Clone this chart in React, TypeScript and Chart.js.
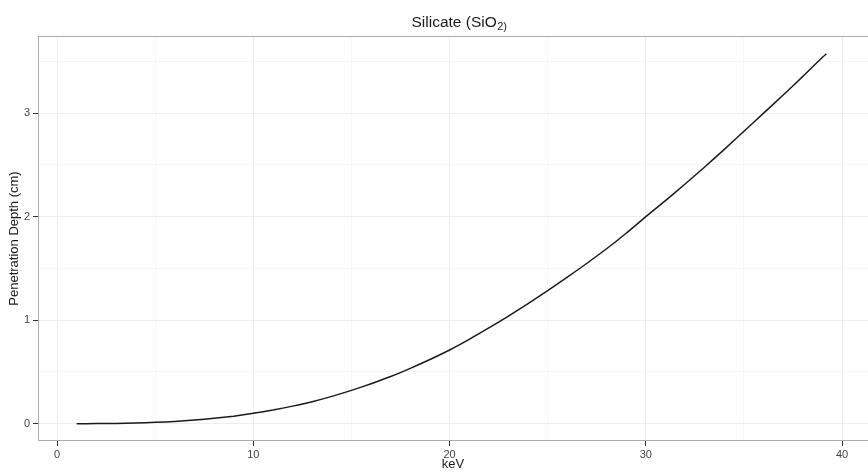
import React, { useEffect, useRef } from 'react';
import { Chart, registerables } from 'chart.js';

Chart.register(...registerables);

// Energy (keV) and penetration depth (cm)
const keV = [1, 2, 3, 4, 5, 6, 7, 8, 9, 10, 11, 12, 13, 14, 15, 16, 17, 18, 19, 20,
  21, 22, 23, 24, 25, 26, 27, 28, 29, 30, 31, 32, 33, 34, 35, 36, 37, 38, 39, 39.2];
const depthCm = [0.000, 0.001, 0.003, 0.007, 0.013, 0.022, 0.036, 0.052, 0.073, 0.100,
  0.132, 0.170, 0.213, 0.264, 0.322, 0.386, 0.456, 0.535, 0.620, 0.712,
  0.815, 0.925, 1.040, 1.160, 1.285, 1.415, 1.550, 1.690, 1.840, 2.000,
  2.155, 2.315, 2.480, 2.650, 2.825, 3.000, 3.175, 3.355, 3.540, 3.572];

const xTicks = [0, 5, 10, 15, 20, 25, 30, 35, 40];
const xLabelled = [0, 10, 20, 30, 40];
const yTicks = [0, 0.5, 1, 1.5, 2, 2.5, 3, 3.5];
const yLabelled = [0, 1, 2, 3];

const titleMain = 'Silicate (SiO';
const titleSub = '2)';
const xTitle = 'keV';
const yTitle = 'Penetration Depth (cm)';

const FONT = '"Liberation Sans", Arial, Helvetica, sans-serif';

const framePlugin = {
  id: 'frame',
  afterDraw(chart: any) {
    const { ctx, chartArea: a } = chart;
    ctx.save();
    ctx.strokeStyle = '#ababab';
    ctx.lineWidth = 1;
    ctx.strokeRect(a.left + 0.5, a.top + 0.5, a.right - a.left + 20, a.bottom - a.top - 1);
    // title with subscript
    ctx.fillStyle = '#1a1a1a';
    ctx.textBaseline = 'alphabetic';
    ctx.textAlign = 'left';
    ctx.font = `15.5px ${FONT}`;
    const w1 = ctx.measureText(titleMain).width;
    ctx.font = `11px ${FONT}`;
    const w2 = ctx.measureText(titleSub).width;
    const cx = (a.left + a.right) / 2 + 6;
    const x0 = cx - (w1 + w2) / 2;
    const base = 26.5;
    ctx.font = `15.5px ${FONT}`;
    ctx.fillText(titleMain, x0, base);
    ctx.font = `11px ${FONT}`;
    ctx.fillText(titleSub, x0 + w1 + 0.5, base + 3.5);
    ctx.restore();
  },
};

export default function App() {
  const ref = useRef<HTMLCanvasElement | null>(null);

  useEffect(() => {
    if (!ref.current) return;
    const points = keV.map((x, i) => ({ x, y: depthCm[i] }));
    const chart = new Chart(ref.current, {
      type: 'line',
      data: {
        datasets: [
          {
            data: points,
            borderColor: '#1a1a1a',
            borderWidth: 1.5,
            pointRadius: 0,
            tension: 0.2,
            fill: false,
          },
        ],
      },
      options: {
        animation: false,
        responsive: false,
        maintainAspectRatio: false,
        layout: { padding: { top: 36, left: 0, right: 0, bottom: 0 } },
        plugins: {
          legend: { display: false },
          tooltip: { enabled: false },
          title: { display: false },
        },
        scales: {
          x: {
            type: 'linear',
            min: -0.97,
            max: 41.32,
            afterBuildTicks: (s: any) => {
              s.ticks = xTicks.map((v) => ({ value: v }));
            },
            afterFit: (s: any) => {
              s.height = 31;
            },
            border: { display: false },
            grid: {
              color: (c: any) => (xLabelled.includes(c.tick?.value) ? '#eeeeee' : '#f5f5f5'),
              tickColor: (c: any) => (xLabelled.includes(c.tick?.value) ? '#333333' : 'rgba(0,0,0,0)'),
              tickLength: 5,
              lineWidth: 1,
            },
            ticks: {
              autoSkip: false,
              maxRotation: 0,
              padding: 2,
              color: '#444444',
              font: { family: FONT, size: 11 },
              callback: (v: any) => (xLabelled.includes(Number(v)) ? String(v) : ''),
            },
            title: {
              display: true,
              text: xTitle,
              color: '#1a1a1a',
              font: { family: FONT, size: 13 },
              padding: { top: 1, bottom: 0 },
            },
          },
          y: {
            type: 'linear',
            min: -0.167,
            max: 3.745,
            afterBuildTicks: (s: any) => {
              s.ticks = yTicks.map((v) => ({ value: v }));
            },
            afterFit: (s: any) => {
              s.width = 38;
            },
            border: { display: false },
            grid: {
              color: (c: any) => (yLabelled.includes(c.tick?.value) ? '#eeeeee' : '#f5f5f5'),
              tickColor: (c: any) => (yLabelled.includes(c.tick?.value) ? '#333333' : 'rgba(0,0,0,0)'),
              tickLength: 5,
              lineWidth: 1,
            },
            ticks: {
              autoSkip: false,
              padding: 3,
              color: '#444444',
              font: { family: FONT, size: 11 },
              callback: (v: any) => (yLabelled.includes(Number(v)) ? String(v) : ''),
            },
            title: {
              display: true,
              text: yTitle,
              color: '#1a1a1a',
              font: { family: FONT, size: 13 },
              padding: { top: 7, bottom: 0 },
            },
          },
        },
      },
      plugins: [framePlugin],
    } as any);
    return () => chart.destroy();
  }, []);

  return (
    <div style={{ position: 'fixed', left: 0, top: 0, width: 868, height: 472, background: '#ffffff' }}>
      <canvas ref={ref} width={868} height={472} style={{ display: 'block' }} />
    </div>
  );
}
